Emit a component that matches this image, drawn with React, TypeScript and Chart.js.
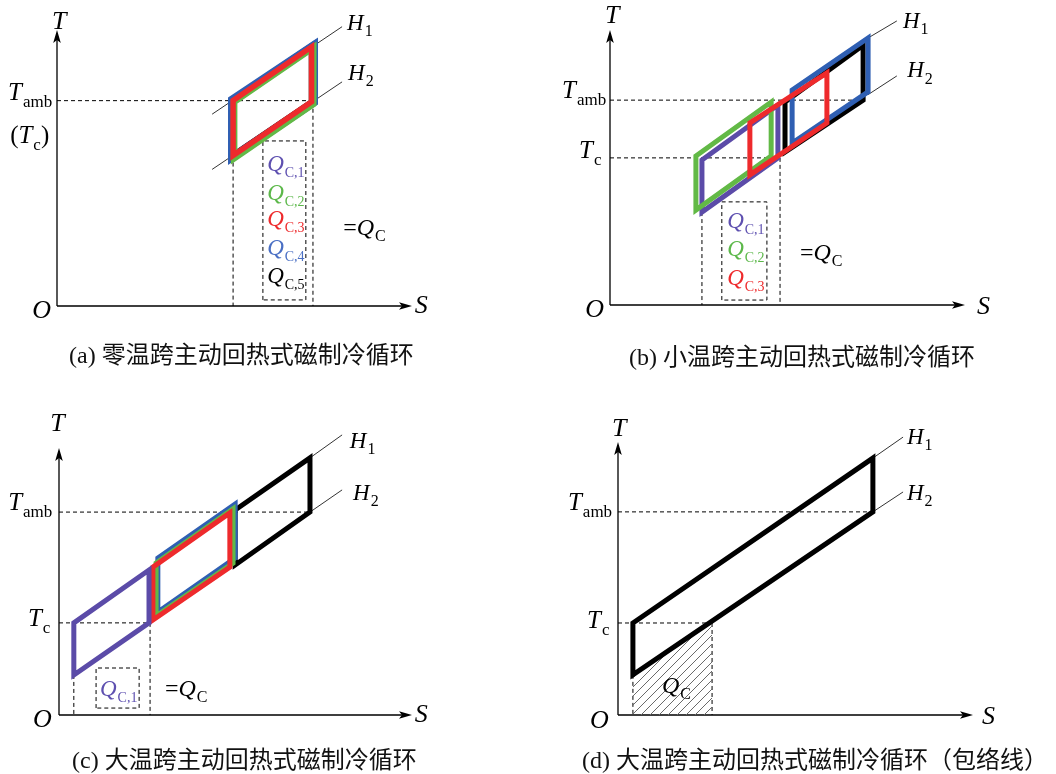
import React, { useEffect, useRef } from "react";
import { Chart, registerables } from "chart.js";

Chart.register(...registerables);

type Pt = { x: number; y: number };
type Seg = { t: string; k: "i" | "r" | "s" };
type Label = { segs: Seg[]; x: number; y: number; color?: string; size?: number; sub?: number };
type Cycle = { pts: Pt[]; color: string; width: number };
type PanelDef = {
  pad: { left: number; top: number; right: number; bottom: number };
  dashed: Pt[][];
  hLines: Pt[][];
  cycles: Cycle[];
  hatch?: Pt[];
  labels: Label[];
};

const PURPLE = "#5b4ba8";
const GREEN = "#62b946";
const RED = "#ee2a2c";
const BLUE = "#2f5fb3";
const BLACK = "#000000";
const Q_PURPLE = "#5e50b0";
const Q_GREEN = "#5cb84a";
const Q_BLUE = "#4a6fc4";

// ---------------- (a) zero temperature span ----------------
const A_BLACK: Pt[] = [{ x: 49.4, y: 54.2 }, { x: 49.4, y: 74.6 }, { x: 71.9, y: 94.2 }, { x: 71.9, y: 73.8 }];
const A_BLUE: Pt[] = [{ x: 49.3, y: 53.8 }, { x: 49.3, y: 74.8 }, { x: 72.4, y: 94.6 }, { x: 72.4, y: 73.8 }];
const A_GREEN: Pt[] = [{ x: 49.9, y: 53.5 }, { x: 49.9, y: 74.0 }, { x: 72.2, y: 93.6 }, { x: 72.2, y: 73.2 }];
const A_RED: Pt[] = [{ x: 49.6, y: 54.5 }, { x: 49.6, y: 74.5 }, { x: 71.7, y: 93.9 }, { x: 71.7, y: 74.0 }];
const A_H1: Pt[] = [{ x: 43.7, y: 69.5 }, { x: 80.3, y: 101.2 }];
const A_H2: Pt[] = [{ x: 43.7, y: 49.5 }, { x: 80.3, y: 81.2 }];
const A_TAMB: Pt[] = [{ x: 0, y: 74.4 }, { x: 72.1, y: 74.4 }];
const A_DROP_L: Pt[] = [{ x: 49.6, y: 54.5 }, { x: 49.6, y: 0 }];
const A_DROP_R: Pt[] = [{ x: 72.1, y: 74.0 }, { x: 72.1, y: 0 }];
const A_BOX: Pt[] = [{ x: 58, y: 2.2 }, { x: 58, y: 59.8 }, { x: 70.1, y: 59.8 }, { x: 70.1, y: 2.2 }, { x: 58, y: 2.2 }];

// ---------------- (b) small temperature span ----------------
const B_PURPLE: Pt[] = [{ x: 25.9, y: 33.8 }, { x: 25.9, y: 52.7 }, { x: 47.3, y: 72.7 }, { x: 47.3, y: 53.5 }];
const B_GREEN: Pt[] = [{ x: 24.2, y: 34.5 }, { x: 24.2, y: 54.2 }, { x: 45.4, y: 73.8 }, { x: 45.4, y: 54.2 }];
const B_BLACK: Pt[] = [{ x: 49.3, y: 55.6 }, { x: 49.3, y: 73.8 }, { x: 71.3, y: 94.5 }, { x: 71.3, y: 74.5 }];
const B_BLUE: Pt[] = [{ x: 51.3, y: 58.9 }, { x: 51.3, y: 78.2 }, { x: 72.7, y: 97.1 }, { x: 72.7, y: 77.5 }];
const B_RED: Pt[] = [{ x: 39.4, y: 47.3 }, { x: 39.4, y: 66.2 }, { x: 61.1, y: 84.4 }, { x: 61.1, y: 66.2 }];
const B_H1: Pt[] = [{ x: 72.7, y: 97.1 }, { x: 80.8, y: 103.3 }];
const B_H2: Pt[] = [{ x: 72.7, y: 76.5 }, { x: 80.8, y: 83.3 }];
const B_TAMB: Pt[] = [{ x: 0, y: 74.5 }, { x: 71.8, y: 74.5 }];
const B_TC: Pt[] = [{ x: 0, y: 53.5 }, { x: 47.9, y: 53.5 }];
const B_DROP_L: Pt[] = [{ x: 25.9, y: 33.8 }, { x: 25.9, y: 0 }];
const B_DROP_R: Pt[] = [{ x: 47.9, y: 53.5 }, { x: 47.9, y: 0 }];
const B_BOX: Pt[] = [{ x: 31.5, y: 1.8 }, { x: 31.5, y: 37.5 }, { x: 44.2, y: 37.5 }, { x: 44.2, y: 1.8 }, { x: 31.5, y: 1.8 }];

// ---------------- (c) large temperature span ----------------
const C_BLACK: Pt[] = [{ x: 49.9, y: 56.2 }, { x: 49.9, y: 76.8 }, { x: 71.1, y: 96.3 }, { x: 71.1, y: 76.0 }];
const C_BLUE: Pt[] = [{ x: 28.0, y: 38.6 }, { x: 28.0, y: 58.8 }, { x: 49.9, y: 79.0 }, { x: 49.9, y: 58.8 }];
const C_GREEN: Pt[] = [{ x: 27.5, y: 37.1 }, { x: 27.5, y: 56.9 }, { x: 49.3, y: 77.2 }, { x: 49.3, y: 56.9 }];
const C_RED: Pt[] = [{ x: 26.6, y: 35.6 }, { x: 26.6, y: 55.4 }, { x: 48.4, y: 75.7 }, { x: 48.4, y: 55.4 }];
const C_PURPLE: Pt[] = [{ x: 4.2, y: 15.0 }, { x: 4.2, y: 34.5 }, { x: 25.5, y: 54.3 }, { x: 25.5, y: 34.5 }];
const C_H1: Pt[] = [{ x: 71.1, y: 96.3 }, { x: 80.2, y: 104.9 }];
const C_H2: Pt[] = [{ x: 71.1, y: 76.0 }, { x: 80.2, y: 84.3 }];
const C_TAMB: Pt[] = [{ x: 0, y: 76.0 }, { x: 71.1, y: 76.0 }];
const C_TC: Pt[] = [{ x: 0, y: 34.5 }, { x: 25.8, y: 34.5 }];
const C_DROP_L: Pt[] = [{ x: 4.2, y: 15.0 }, { x: 4.2, y: 0 }];
const C_DROP_R: Pt[] = [{ x: 25.8, y: 34.5 }, { x: 25.8, y: 0 }];
const C_BOX: Pt[] = [{ x: 10.5, y: 2.6 }, { x: 10.5, y: 17.6 }, { x: 22.7, y: 17.6 }, { x: 22.7, y: 2.6 }, { x: 10.5, y: 2.6 }];

// ---------------- (d) envelope ----------------
const D_CYCLE: Pt[] = [{ x: 4.2, y: 14.7 }, { x: 4.2, y: 33.7 }, { x: 71.8, y: 94.1 }, { x: 71.8, y: 74.4 }];
const D_H1: Pt[] = [{ x: 71.8, y: 94.1 }, { x: 80.3, y: 101.8 }];
const D_H2: Pt[] = [{ x: 71.8, y: 74.4 }, { x: 80.3, y: 81.7 }];
const D_QC_AREA: Pt[] = [{ x: 4.2, y: 14.7 }, { x: 26.5, y: 34.1 }];
const D_TAMB: Pt[] = [{ x: 0, y: 74.4 }, { x: 71.8, y: 74.4 }];
const D_TC: Pt[] = [{ x: 0, y: 33.7 }, { x: 26.5, y: 33.7 }];
const D_DROP_L: Pt[] = [{ x: 4.2, y: 14.7 }, { x: 4.2, y: 0 }];
const D_DROP_R: Pt[] = [{ x: 26.5, y: 33.7 }, { x: 26.5, y: 0 }];

// ---------------- captions ----------------
const CAPTIONS = [
  "(a) 零温跨主动回热式磁制冷循环",
  "(b) 小温跨主动回热式磁制冷循环",
  "(c) 大温跨主动回热式磁制冷循环",
  "(d) 大温跨主动回热式磁制冷循环（包络线）",
];

const it = (t: string): Seg => ({ t, k: "i" });
const rm = (t: string): Seg => ({ t, k: "r" });
const sb = (t: string): Seg => ({ t, k: "s" });

const QS = 23;
const QSUB = 14;

function axisLabels(t: Pt, s: Pt, o: Pt): Label[] {
  return [
    { segs: [it("T")], x: t.x, y: t.y, size: 26 },
    { segs: [it("S")], x: s.x, y: s.y, size: 26 },
    { segs: [it("O")], x: o.x, y: o.y, size: 26 },
  ];
}
function hLabels(h1: Pt, h2: Pt): Label[] {
  return [
    { segs: [it("H"), sb("1")], x: h1.x, y: h1.y, size: 23 },
    { segs: [it("H"), sb("2")], x: h2.x, y: h2.y, size: 23 },
  ];
}

const PANEL_A: PanelDef = {
  pad: { left: 57, top: 30, right: 116, bottom: 81 },
  dashed: [A_TAMB, A_DROP_L, A_DROP_R, A_BOX],
  hLines: [A_H1, A_H2],
  cycles: [
    { pts: A_BLACK, color: BLACK, width: 7 },
    { pts: A_BLUE, color: BLUE, width: 8 },
    { pts: A_GREEN, color: GREEN, width: 6.5 },
    { pts: A_RED, color: RED, width: 5.5 },
  ],
  labels: [
    ...axisLabels({ x: -1.4, y: 103.6 }, { x: 100.8, y: 0.4 }, { x: -7, y: -1.4 }),
    { segs: [it("T"), sb("amb")], x: -13.8, y: 77.5, size: 25 },
    { segs: [rm("("), it("T"), sb("c"), rm(")")], x: -13.2, y: 62, size: 25 },
    ...hLabels({ x: 81.7, y: 102.9 }, { x: 82, y: 84.8 }),
    { segs: [it("Q"), sb("C,1")], x: 59.2, y: 51.8, color: Q_PURPLE, size: QS, sub: QSUB },
    { segs: [it("Q"), sb("C,2")], x: 59.2, y: 41.3, color: Q_GREEN, size: QS, sub: QSUB },
    { segs: [it("Q"), sb("C,3")], x: 59.2, y: 31.9, color: RED, size: QS, sub: QSUB },
    { segs: [it("Q"), sb("C,4")], x: 59.2, y: 21.4, color: Q_BLUE, size: QS, sub: QSUB },
    { segs: [it("Q"), sb("C,5")], x: 59.2, y: 11.2, color: BLACK, size: QS, sub: QSUB },
    { segs: [rm("="), it("Q"), sb("C")], x: 80.6, y: 28.6, size: 24 },
  ],
};

const PANEL_B: PanelDef = {
  pad: { left: 82, top: 30, right: 91, bottom: 82 },
  dashed: [B_TAMB, B_TC, B_DROP_L, B_DROP_R, B_BOX],
  hLines: [B_H1, B_H2],
  cycles: [
    { pts: B_PURPLE, color: PURPLE, width: 5 },
    { pts: B_GREEN, color: GREEN, width: 5 },
    { pts: B_BLACK, color: BLACK, width: 5 },
    { pts: B_BLUE, color: BLUE, width: 5 },
    { pts: B_RED, color: RED, width: 5 },
  ],
  labels: [
    ...axisLabels({ x: -1.4, y: 105.5 }, { x: 103.4, y: 0 }, { x: -7, y: -1.1 }),
    { segs: [it("T"), sb("amb")], x: -13.5, y: 78.2, size: 25 },
    { segs: [it("T"), sb("c")], x: -8.7, y: 56.4, size: 25 },
    ...hLabels({ x: 82.5, y: 103.6 }, { x: 83.7, y: 85.5 }),
    { segs: [it("Q"), sb("C,1")], x: 33, y: 30.9, color: Q_PURPLE, size: QS, sub: QSUB },
    { segs: [it("Q"), sb("C,2")], x: 33, y: 20.7, color: Q_GREEN, size: QS, sub: QSUB },
    { segs: [it("Q"), sb("C,3")], x: 33, y: 10.2, color: RED, size: QS, sub: QSUB },
    { segs: [rm("="), it("Q"), sb("C")], x: 53.5, y: 19.3, size: 24 },
  ],
};

const PANEL_C: PanelDef = {
  pad: { left: 59, top: 61, right: 116, bottom: 59 },
  dashed: [C_TAMB, C_TC, C_DROP_L, C_DROP_R, C_BOX],
  hLines: [C_H1, C_H2],
  cycles: [
    { pts: C_BLACK, color: BLACK, width: 5 },
    { pts: C_BLUE, color: BLUE, width: 5 },
    { pts: C_GREEN, color: GREEN, width: 5 },
    { pts: C_RED, color: RED, width: 5 },
    { pts: C_PURPLE, color: PURPLE, width: 5 },
  ],
  labels: [
    ...axisLabels({ x: -2.5, y: 109.7 }, { x: 100.8, y: 0.7 }, { x: -7.4, y: -1.1 }),
    { segs: [it("T"), sb("amb")], x: -14.4, y: 79.8, size: 25 },
    { segs: [it("T"), sb("c")], x: -8.8, y: 36.3, size: 25 },
    ...hLabels({ x: 82.4, y: 103 }, { x: 83.3, y: 83.5 }),
    { segs: [it("Q"), sb("C,1")], x: 11.6, y: 10.1, color: Q_PURPLE, size: QS, sub: QSUB },
    { segs: [rm("="), it("Q"), sb("C")], x: 30, y: 10.1, size: 24 },
  ],
};

const PANEL_D: PanelDef = {
  pad: { left: 90, top: 55, right: 83, bottom: 59 },
  dashed: [D_TAMB, D_TC, D_DROP_L, D_DROP_R],
  hLines: [D_H1, D_H2],
  hatch: D_QC_AREA,
  cycles: [{ pts: D_CYCLE, color: BLACK, width: 5 }],
  labels: [
    ...axisLabels({ x: -1.7, y: 105.5 }, { x: 102.5, y: 0 }, { x: -7.9, y: -1.8 }),
    { segs: [it("T"), sb("amb")], x: -14.1, y: 78, size: 25 },
    { segs: [it("T"), sb("c")], x: -8.7, y: 34.8, size: 25 },
    ...hLabels({ x: 81.4, y: 102.2 }, { x: 81.4, y: 81.7 }),
    { segs: [it("Q"), sb("C")], x: 12.4, y: 11, size: 24 },
  ],
};

const SERIF = '"Liberation Serif", "Times New Roman", serif';

function drawLabel(ctx: CanvasRenderingContext2D, chart: any, lab: Label) {
  const xs = chart.scales.x;
  const ys = chart.scales.y;
  const size = lab.size ?? 22;
  const sub = lab.sub ?? Math.round(size * 0.68);
  let x = xs.getPixelForValue(lab.x);
  const base = ys.getPixelForValue(lab.y) + size * 0.33;
  ctx.fillStyle = lab.color ?? "#000";
  ctx.textBaseline = "alphabetic";
  ctx.textAlign = "left";
  for (const s of lab.segs) {
    if (s.k === "s") {
      ctx.font = `${sub}px ${SERIF}`;
      ctx.fillText(s.t, x + 1, base + size * 0.27);
      x += ctx.measureText(s.t).width + 1;
    } else {
      ctx.font = `${s.k === "i" ? "italic " : ""}${size}px ${SERIF}`;
      ctx.fillText(s.t, x, base);
      x += ctx.measureText(s.t).width;
    }
  }
}

function makeHatch(): CanvasPattern | string {
  const n = 9;
  const pc = document.createElement("canvas");
  pc.width = n;
  pc.height = n;
  const g = pc.getContext("2d");
  if (!g) return "rgba(0,0,0,0.2)";
  g.strokeStyle = "#6a6a6a";
  g.lineWidth = 1;
  g.beginPath();
  g.moveTo(0, n);
  g.lineTo(n, 0);
  g.moveTo(-2, 2);
  g.lineTo(2, -2);
  g.moveTo(n - 2, n + 2);
  g.lineTo(n + 2, n - 2);
  g.stroke();
  const p = g.createPattern(pc, "repeat");
  return p ?? "rgba(0,0,0,0.2)";
}

function buildConfig(def: PanelDef): any {
  const common = {
    showLine: true,
    pointRadius: 0,
    pointHoverRadius: 0,
    tension: 0,
    clip: false,
    fill: false,
  };
  // listed bottom-most first
  const layers: any[] = [];
  for (const d of def.dashed) {
    layers.push({ ...common, data: d, borderColor: "#000", borderWidth: 1, borderDash: [4, 3] });
  }
  for (const h of def.hLines) {
    layers.push({ ...common, data: h, borderColor: "#333", borderWidth: 1 });
  }
  if (def.hatch) {
    layers.push({
      ...common,
      data: def.hatch,
      borderWidth: 0,
      borderColor: "rgba(0,0,0,0)",
      backgroundColor: makeHatch(),
      fill: "origin",
    });
  }
  for (const c of def.cycles) {
    const pts = c.pts;
    layers.push({
      ...common,
      data: [...pts, pts[0], pts[1]],
      borderColor: c.color,
      borderWidth: c.width,
      borderJoinStyle: "miter",
      borderCapStyle: "butt",
    });
  }
  // Chart.js paints higher "order" first, so give later layers lower order
  const datasets = layers.map((ds, i) => ({ ...ds, order: layers.length - i }));

  const overlay = {
    id: "overlay",
    beforeDatasetsDraw(chart: any) {
      const ctx: CanvasRenderingContext2D = chart.ctx;
      const xs = chart.scales.x;
      const ys = chart.scales.y;
      const ox = xs.getPixelForValue(0);
      const oy = ys.getPixelForValue(0);
      const xe = xs.getPixelForValue(100);
      const ye = ys.getPixelForValue(100);
      ctx.save();
      ctx.strokeStyle = "#000";
      ctx.fillStyle = "#000";
      ctx.lineWidth = 1.3;
      ctx.beginPath();
      ctx.moveTo(ox, oy);
      ctx.lineTo(xe - 8, oy);
      ctx.moveTo(ox, oy);
      ctx.lineTo(ox, ye + 8);
      ctx.stroke();
      ctx.beginPath();
      ctx.moveTo(xe, oy);
      ctx.lineTo(xe - 13, oy - 3.8);
      ctx.lineTo(xe - 10, oy);
      ctx.lineTo(xe - 13, oy + 3.8);
      ctx.closePath();
      ctx.fill();
      ctx.beginPath();
      ctx.moveTo(ox, ye);
      ctx.lineTo(ox - 3.8, ye + 13);
      ctx.lineTo(ox, ye + 10);
      ctx.lineTo(ox + 3.8, ye + 13);
      ctx.closePath();
      ctx.fill();
      ctx.restore();
    },
    afterDatasetsDraw(chart: any) {
      const ctx: CanvasRenderingContext2D = chart.ctx;
      ctx.save();
      for (const lab of def.labels) drawLabel(ctx, chart, lab);
      ctx.restore();
    },
  };

  return {
    type: "scatter",
    data: { datasets },
    options: {
      animation: false,
      responsive: false,
      maintainAspectRatio: false,
      events: [],
      layout: { padding: def.pad },
      scales: {
        x: { type: "linear", min: 0, max: 100, display: false },
        y: { type: "linear", min: 0, max: 100, display: false },
      },
      plugins: {
        legend: { display: false },
        tooltip: { enabled: false },
        title: { display: false },
      },
    },
    plugins: [overlay],
  };
}

function Panel({ def, left, top }: { def: PanelDef; left: number; top: number }) {
  const ref = useRef<HTMLCanvasElement>(null);
  useEffect(() => {
    if (!ref.current) return;
    const chart = new Chart(ref.current, buildConfig(def));
    return () => chart.destroy();
  }, [def]);
  return (
    <canvas
      ref={ref}
      width={528}
      height={387}
      style={{ position: "absolute", left, top, width: 528, height: 387 }}
    />
  );
}

const captionStyle: React.CSSProperties = {
  position: "absolute",
  fontFamily: '"Liberation Serif", "Noto Sans CJK SC", serif',
  fontSize: 24,
  lineHeight: "24px",
  whiteSpace: "nowrap",
  color: "#111",
};

export default function App() {
  return (
    <div
      style={{
        position: "absolute",
        left: 0,
        top: 0,
        width: 1056,
        height: 774,
        background: "#fff",
        overflow: "hidden",
      }}
    >
      <Panel def={PANEL_A} left={0} top={0} />
      <Panel def={PANEL_B} left={528} top={0} />
      <Panel def={PANEL_C} left={0} top={387} />
      <Panel def={PANEL_D} left={528} top={387} />
      <div style={{ ...captionStyle, left: 69, top: 343 }}>{CAPTIONS[0]}</div>
      <div style={{ ...captionStyle, left: 629, top: 345 }}>{CAPTIONS[1]}</div>
      <div style={{ ...captionStyle, left: 72, top: 748 }}>{CAPTIONS[2]}</div>
      <div style={{ ...captionStyle, left: 582, top: 748 }}>{CAPTIONS[3]}</div>
    </div>
  );
}
